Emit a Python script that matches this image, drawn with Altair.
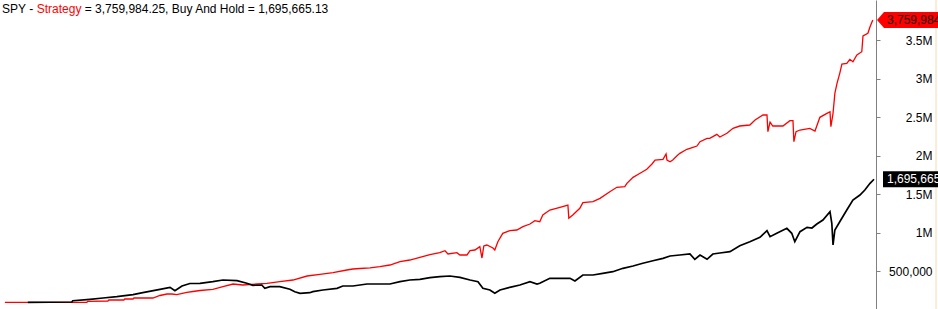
import altair as alt
import pandas as pd

# ---------------- data ----------------
red_years = [
    1993.08, 1995.76, 1995.79, 1996.45, 1996.48, 1996.97, 1997.00, 1997.27, 1997.30, 1997.92,
    1998.15, 1998.38, 1998.54, 1998.70, 1999.03, 1999.23, 1999.46, 1999.88, 2000.21, 2000.54,
    2000.86, 2001.32, 2001.65, 2002.07, 2002.50, 2002.96, 2003.38, 2003.81, 2004.26, 2004.46,
    2004.69, 2005.02, 2005.34, 2005.67, 2006.00, 2006.32, 2006.65, 2006.98, 2007.30, 2007.47,
    2007.57, 2007.86, 2007.96, 2008.19, 2008.29, 2008.45, 2008.61, 2008.68, 2008.74, 2008.84,
    2009.04, 2009.10, 2009.20, 2009.36, 2009.59, 2009.82, 2010.02, 2010.25, 2010.41, 2010.57,
    2010.67, 2010.90, 2011.23, 2011.49, 2011.52, 2011.65, 2011.88, 2011.98, 2012.31, 2012.54,
    2012.86, 2013.09, 2013.35, 2013.42, 2013.62, 2013.85, 2014.07, 2014.24, 2014.34, 2014.60,
    2014.70, 2014.73, 2014.83, 2014.92, 2015.05, 2015.15, 2015.38, 2015.58, 2015.71, 2015.81,
    2016.04, 2016.13, 2016.36, 2016.46, 2016.69, 2016.89, 2017.11, 2017.44, 2017.61, 2017.87,
    2018.00, 2018.03, 2018.10, 2018.19, 2018.52, 2018.75, 2018.85, 2018.88, 2018.95, 2019.08,
    2019.40, 2019.57, 2019.73, 2019.96, 2020.06, 2020.09, 2020.16, 2020.22, 2020.29, 2020.38,
    2020.45, 2020.61, 2020.71, 2020.81, 2020.94, 2021.10, 2021.14, 2021.30, 2021.37, 2021.46,
]
red_values = [
    100000, 100000, 112800, 116700, 129700, 129700, 142700, 142700, 155600, 155600,
    188100, 207500, 207500, 198400, 229600, 240000, 252900, 268500, 302200, 337200,
    324300, 337200, 346300, 367100, 389100, 441000, 463000, 483800, 518800, 531800,
    538300, 547300, 561600, 583700, 626500, 648500, 683500, 717200, 743200, 769100,
    726300, 743200, 713400, 713400, 769100, 778200, 821000, 674400, 830100, 843000,
    804100, 778200, 885900, 994800, 1028500, 1037600, 1080400, 1115400, 1158200, 1145300,
    1232200, 1297000, 1332000, 1361900, 1189300, 1232200, 1319000, 1391700, 1404700, 1448700,
    1534400, 1591400, 1599200, 1643300, 1721100, 1773000, 1824900, 1893600, 1945500, 1954600,
    2023300, 1945500, 1923500, 1945500, 1997400, 2032400, 2084300, 2110200, 2127100, 2182900,
    2226900, 2226900, 2278800, 2243800, 2291800, 2356600, 2386500, 2399500, 2464300, 2529200,
    2529200, 2312500, 2438400, 2386500, 2386500, 2455200, 2455200, 2182900, 2312500, 2334600,
    2356600, 2321600, 2499300, 2551200, 2571900, 2377400, 2551200, 2810600, 2940300, 3070000,
    3190600, 3199700, 3251600, 3220500, 3307400, 3350100, 3553800, 3588800, 3674400, 3759984.25,
]

black_years = [
    1993.83, 1995.27, 1995.30, 1995.86, 1996.29, 1996.74, 1997.27, 1997.59, 1998.15, 1998.48,
    1998.64, 1998.87, 1999.13, 1999.46, 1999.88, 2000.21, 2000.67, 2000.99, 2001.19, 2001.48,
    2001.58, 2001.75, 2002.07, 2002.40, 2002.56, 2002.73, 2003.05, 2003.15, 2003.48, 2003.94,
    2004.13, 2004.46, 2004.92, 2005.34, 2005.67, 2006.00, 2006.32, 2006.65, 2006.98, 2007.30,
    2007.63, 2007.96, 2008.29, 2008.55, 2008.71, 2008.94, 2009.10, 2009.27, 2009.59, 2009.92,
    2010.25, 2010.48, 2010.57, 2010.90, 2011.56, 2011.72, 2011.98, 2012.31, 2012.63, 2012.96,
    2013.29, 2013.62, 2013.94, 2014.27, 2014.60, 2014.83, 2015.15, 2015.48, 2015.64, 2015.81,
    2016.04, 2016.23, 2016.46, 2016.79, 2017.11, 2017.44, 2017.77, 2018.00, 2018.10, 2018.32,
    2018.65, 2018.81, 2018.91, 2019.08, 2019.31, 2019.47, 2019.63, 2019.83, 2020.06, 2020.12,
    2020.16, 2020.22, 2020.38, 2020.61, 2020.81, 2021.04, 2021.20, 2021.37, 2021.50,
]
black_values = [
    100000, 103800, 120600, 138800, 155600, 172500, 198400, 224400, 268500, 294400,
    250300, 311300, 343700, 346300, 367100, 389100, 380000, 346300, 320400, 324300,
    281400, 302200, 302200, 268500, 237400, 216600, 224400, 237400, 259400, 281400,
    311300, 311300, 337200, 337200, 337200, 367100, 389100, 398200, 418900, 431900,
    441000, 424100, 389100, 367100, 281400, 259400, 216600, 259400, 294400, 324300,
    367100, 337200, 346300, 411100, 411100, 376100, 454000, 454000, 476000, 496800,
    540800, 570700, 605700, 639400, 670500, 700400, 713400, 726300, 657600, 713400,
    657600, 726300, 739300, 756200, 834000, 885900, 942900, 1028500, 950700, 994800,
    1059600, 994800, 885900, 1015600, 1072600, 1063500, 1115400, 1167300, 1275000, 1124500,
    843000, 1037600, 1145300, 1297000, 1426700, 1491600, 1556400, 1643300, 1695665.13,
]

symbol = "SPY"
axis_ticks = [500000, 1000000, 1500000, 2000000, 2500000, 3000000, 3500000]

# ---------------- chart ----------------
FONT = "Liberation Sans"
strategy_final = red_values[-1]
hold_final = black_values[-1]

red_df = pd.DataFrame({"year": red_years, "equity": red_values})
black_df = pd.DataFrame({"year": black_years, "equity": black_values})
red_last = pd.DataFrame({"equity": [strategy_final]})
black_last = pd.DataFrame({"equity": [hold_final]})
one = pd.DataFrame({"k": [0]})

x_enc = alt.X("year:Q", scale=alt.Scale(domain=[1992.92, 2021.565], nice=False, zero=False), axis=None)
y_axis = alt.Axis(
    orient="right", values=axis_ticks, title=None, grid=False,
    labelExpr="datum.value >= 1000000 ? format(datum.value / 1000000, '~g') + 'M' : format(datum.value, ',')",
    domainColor="#808080", tickColor="#808080", tickSize=4, domainWidth=1,
    labelAlign="right", labelBaseline="middle", labelPadding=52,
    labelFont=FONT, labelFontSize=12, labelColor="#000000",
)
y_enc = alt.Y("equity:Q", scale=alt.Scale(domain=[0, 4021000], nice=False, zero=False), axis=y_axis)

edge = alt.Chart(one).mark_rule(color="#f3dcae", strokeWidth=1).encode(
    x=alt.value(936), y=alt.value(0), y2=alt.value(310)
)

red_line = alt.Chart(red_df).mark_line(color="#ff0000", strokeWidth=1.3).encode(x=x_enc, y=y_enc)
black_line = alt.Chart(black_df).mark_line(color="#000000", strokeWidth=1.7).encode(x=x_enc, y=y_enc)

red_box = alt.Chart(red_last).mark_point(
    shape="M-0.375,0L0.5,-1L7.5,-1L7.5,1L0.5,1Z", size=256, filled=True,
    color="#ff0000", opacity=1, strokeWidth=0,
).encode(x=alt.value(880), y=y_enc)
black_box = alt.Chart(black_last).mark_point(
    shape="M0.375,-1L7.5,-1L7.5,1L0.375,1Z", size=256, filled=True,
    color="#000000", opacity=1, strokeWidth=0,
).encode(x=alt.value(880), y=y_enc)

red_label = alt.Chart(red_last).mark_text(
    align="left", baseline="middle", font=FONT, fontSize=12, color="#1a0000"
).encode(x=alt.value(887), y=y_enc, text=alt.Text("equity:Q", format=",.0f"))
black_label = alt.Chart(black_last).mark_text(
    align="left", baseline="middle", font=FONT, fontSize=12, color="#ffffff"
).encode(x=alt.value(887), y=y_enc, text=alt.Text("equity:Q", format=",.0f"))

t1 = alt.Chart(one).mark_text(align="left", baseline="alphabetic", font=FONT, fontSize=12, color="#000000").encode(
    x=alt.value(2), y=alt.value(13), text=alt.value(f"{symbol} -"))
t2 = alt.Chart(one).mark_text(align="left", baseline="alphabetic", font=FONT, fontSize=12, color="#ff0000").encode(
    x=alt.value(36.7), y=alt.value(13), text=alt.value("Strategy"))
t3 = alt.Chart(one).mark_text(align="left", baseline="alphabetic", font=FONT, fontSize=12, color="#000000").encode(
    x=alt.value(84.7), y=alt.value(13),
    text=alt.value(f"= {strategy_final:,.2f}, Buy And Hold = {hold_final:,.2f}"))

chart = alt.layer(
    edge, red_line, black_line, red_box, black_box, red_label, black_label, t1, t2, t3
).properties(
    width=876, height=310,
    autosize=alt.AutoSizeParams(type="none"),
    padding={"left": 0, "top": 0, "right": 62, "bottom": 0},
    background="#ffffff",
).configure_view(stroke=None)

chart.save("out.html", embed_options={"renderer": "svg", "actions": False})
